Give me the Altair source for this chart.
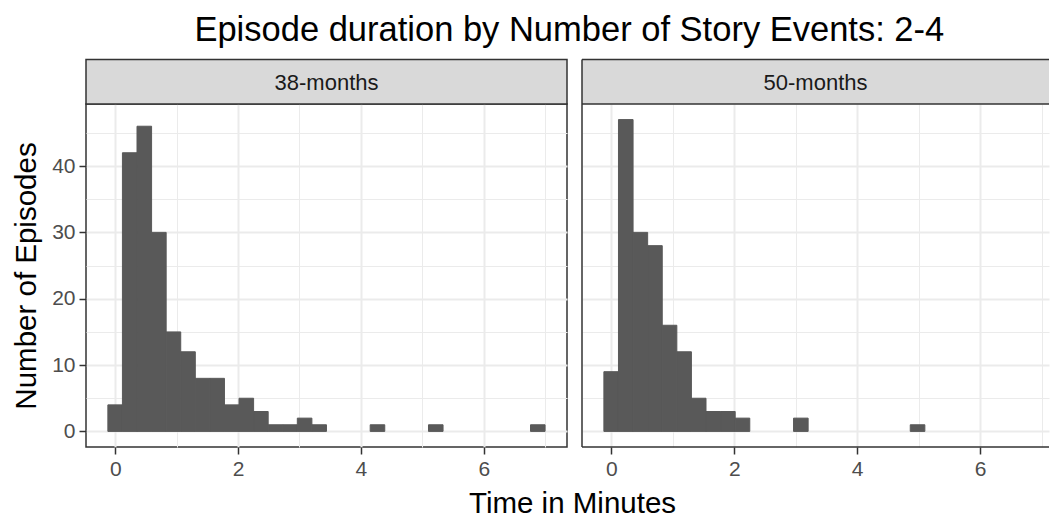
import altair as alt
import pandas as pd

# ---- data ----
panels = ["38-months", "50-months"]
bin_start = -0.12          # left edge of the first bin (minutes)
bin_width = 0.2373         # 30 bins over the data range
counts_38 = [4, 42, 46, 30, 15, 12, 8, 8, 4, 5, 3, 1, 1, 2, 1, 0, 0, 0, 1, 0,
             0, 0, 1, 0, 0, 0, 0, 0, 0, 1]
counts_50 = [9, 47, 30, 28, 16, 12, 5, 3, 3, 2, 0, 0, 0, 2, 0, 0, 0, 0, 0, 0,
             0, 1, 0, 0, 0, 0, 0, 0, 0, 0]
x_major = [0, 2, 4, 6]
x_minor = [1, 3, 5, 7]
y_major = [0, 10, 20, 30, 40]
y_minor = [5, 15, 25, 35, 45]

FONT = "Liberation Sans"
W_LEFT, W_RIGHT, H = 481, 467, 343
STRIP_H = 44.5
X_DOMAIN_LEFT = [-0.476, 7.356]
X_DOMAIN_RIGHT = [-0.476, 7.12]
Y_DOMAIN = [-2.35, 49.35]


def hist_df(counts):
    rows = []
    for i, c in enumerate(counts):
        if c > 0:
            lo = bin_start + i * bin_width
            rows.append({"lo": lo, "hi": lo + bin_width, "count": c, "zero": 0})
    return pd.DataFrame(rows)


def cond(test, a, b):
    return {"condition": {"test": test, "value": a}, "value": b}


def panel(label, counts, width, xdom, first):
    xvals = sorted(x_major + x_minor)
    yvals = sorted(y_major + y_minor)
    if first:
        x_axis = alt.Axis(
            values=xvals,
            labelExpr="datum.value % 2 === 0 ? datum.label : ''",
            tickOpacity=cond("datum.value % 2 === 0", 1, 0),
            gridWidth=cond("datum.value % 2 === 0", 2, 1),
            title="Time in Minutes",
            titleX=486,
            titleY=65,
            titleAlign="center",
            titleBaseline="alphabetic",
        )
        y_axis = alt.Axis(
            values=yvals,
            labelExpr="datum.value % 10 === 0 ? datum.label : ''",
            tickOpacity=cond("datum.value % 10 === 0", 1, 0),
            gridWidth=cond("datum.value % 10 === 0", 2, 1),
            title="Number of Episodes",
        )
    else:
        x_axis = alt.Axis(
            values=xvals,
            labelExpr="datum.value % 2 === 0 ? datum.label : ''",
            tickOpacity=cond("datum.value % 2 === 0", 1, 0),
            gridWidth=cond("datum.value % 2 === 0", 2, 1),
            title=None,
        )
        y_axis = alt.Axis(
            values=yvals,
            labels=False,
            ticks=False,
            gridWidth=cond("datum.value % 10 === 0", 2, 1),
            title=None,
        )

    bars = alt.Chart(hist_df(counts)).mark_rect(
        color="#595959", stroke="#595959", strokeWidth=1
    ).encode(
        x=alt.X("lo:Q", scale=alt.Scale(domain=xdom, nice=False, zero=False), axis=x_axis),
        x2="hi:Q",
        y=alt.Y("count:Q", scale=alt.Scale(domain=Y_DOMAIN, nice=False, zero=False), axis=y_axis),
        y2="zero:Q",
    )

    lab = pd.DataFrame({"label": [label]})
    strip = alt.Chart(lab).mark_rect(
        fill="#D9D9D9",
        stroke="#333333" if first else None,
        strokeWidth=1.5,
    ).encode(
        x=alt.value(0), x2=alt.value(width),
        y=alt.value(-STRIP_H), y2=alt.value(0),
    )
    strip_text = alt.Chart(lab).mark_text(
        font=FONT, fontSize=22, color="#1A1A1A", baseline="middle", align="center"
    ).encode(
        x=alt.value(width / 2), y=alt.value(-STRIP_H / 2 + 1), text="label:N"
    )
    layers = [bars, strip, strip_text]
    if not first:
        line = dict(color="#333333", strokeWidth=1.5)
        layers += [
            alt.Chart(lab).mark_rule(**line).encode(
                x=alt.value(0), y=alt.value(-STRIP_H), y2=alt.value(H)),
            alt.Chart(lab).mark_rule(**line).encode(
                x=alt.value(0), x2=alt.value(width), y=alt.value(-STRIP_H)),
            alt.Chart(lab).mark_rule(**line).encode(
                x=alt.value(0), x2=alt.value(width), y=alt.value(0)),
            alt.Chart(lab).mark_rule(**line).encode(
                x=alt.value(0), x2=alt.value(width), y=alt.value(H)),
        ]
    ch = alt.layer(*layers).properties(width=width, height=H)
    if first:
        ch = ch.properties(view=alt.ViewBackground(stroke="#333333", strokeWidth=1.5))
    else:
        ch = ch.properties(view=alt.ViewBackground(stroke=None))
    return ch


left = panel(panels[0], counts_38, W_LEFT, X_DOMAIN_LEFT, True)
right = panel(panels[1], counts_50, W_RIGHT, X_DOMAIN_RIGHT, False)

chart = alt.hconcat(left, right, spacing=15, bounds="flush").properties(
    title=alt.TitleParams(
        "Episode duration by Number of Story Events: 2-4",
        font=FONT, fontSize=34.5, fontWeight="normal", color="#000000",
        anchor="middle", offset=10, dx=39,
    ),
    padding={"left": 10, "top": 12, "right": 0, "bottom": 0},
    background="white",
).configure_view(stroke=None).configure_axis(
    gridColor="#EBEBEB",
    domain=False,
    tickColor="#333333",
    tickSize=7,
    tickWidth=1.5,
    labelColor="#4D4D4D",
    labelFont=FONT,
    labelFontSize=21,
    labelPadding=4,
    titleFont=FONT,
    titleFontSize=29.5,
    titleFontWeight="normal",
    titleColor="#000000",
    titlePadding=10,
)

chart.save("out.html", embed_options={"renderer": "svg", "actions": False})
